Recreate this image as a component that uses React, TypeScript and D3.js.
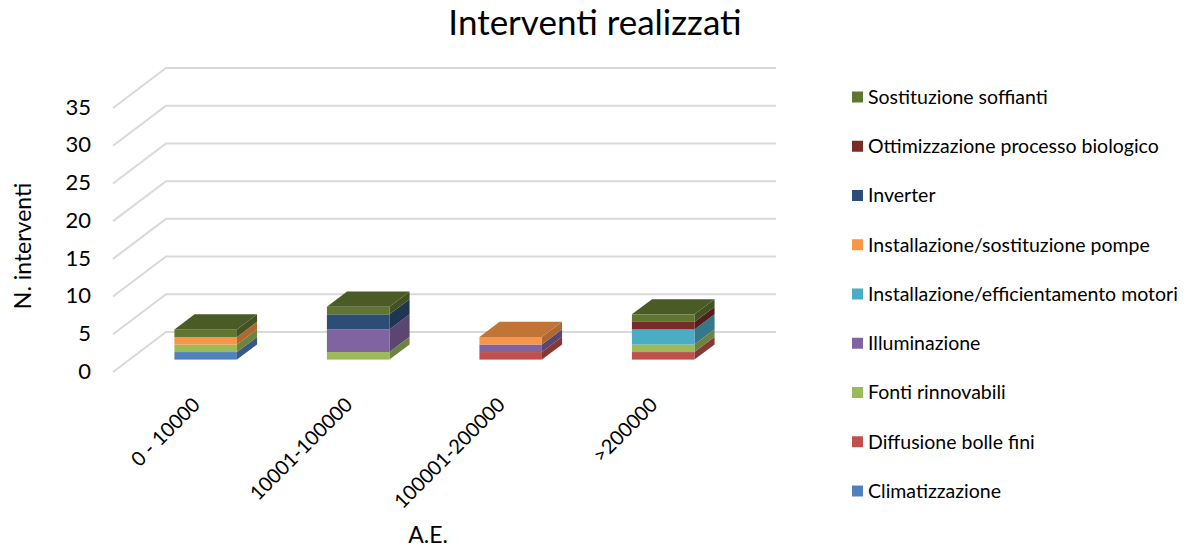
import React, { useEffect, useRef } from 'react';
import * as d3 from 'd3';

// categories (A.E. classes)
const categories = ['0 - 10000', '10001-100000', '100001-200000', '>200000'];

// series, in stack order (bottom to top)
const seriesNames = [
  'Climatizzazione',
  'Diffusione bolle fini',
  'Fonti rinnovabili',
  'Illuminazione',
  'Installazione/efficientamento motori',
  'Installazione/sostituzione pompe',
  'Inverter',
  'Ottimizzazione processo biologico',
  'Sostituzione soffianti',
];
const seriesColors = ['#4F81BD', '#C0504D', '#9BBB59', '#8064A2', '#4BACC6', '#F79646', '#2C4D75', '#772C2A', '#5F7530'];

// values per series, one per category
const climatizzazione = [1, 0, 0, 0];
const diffusione = [0, 0, 1, 1];
const fonti = [1, 1, 0, 1];
const illuminazione = [0, 3, 1, 0];
const motori = [0, 0, 0, 2];
const pompe = [1, 0, 1, 0];
const inverter = [0, 2, 0, 0];
const ottimizzazione = [0, 0, 0, 1];
const soffianti = [1, 1, 0, 1];

const yTicks = [0, 5, 10, 15, 20, 25, 30, 35];

const FONT = 'Lato, "Open Sans", sans-serif';

const App = () => {
  const svgRef = useRef<SVGSVGElement | null>(null);

  useEffect(() => {
    if (!svgRef.current) return;
    d3.select(svgRef.current).selectAll('*').remove();

    const width = 1196;
    const height = 547;
    const svg = d3.select(svgRef.current).attr('width', width).attr('height', height);

    const values = [climatizzazione, diffusione, fonti, illuminazione, motori, pompe, inverter, ottimizzazione, soffianti];
    const rows = categories.map((c, i) => {
      const r: any = { cat: c };
      seriesNames.forEach((s, j) => (r[s] = values[j][i]));
      return r;
    });
    const stacked = d3.stack().keys(seriesNames)(rows);

    // front plane
    const x = d3.scaleBand().domain(categories).range([113, 723]).paddingInner(0.59).paddingOuter(0.295);
    const y = d3.scaleLinear().domain([0, 35]).range([372, 108]);
    const depth = { dx: 53, dy: -40 };
    const d0 = 0.31;
    const d1 = 0.69;

    // left wall and back wall gridlines
    yTicks.forEach((t) => {
      svg.append('path')
        .attr('d', `M113,${y(t)} L${113 + depth.dx},${y(t) + depth.dy} L${723 + depth.dx},${y(t) + depth.dy}`)
        .attr('fill', 'none')
        .attr('stroke', '#D9D9D9')
        .attr('stroke-width', 2);

      svg.append('text')
        .attr('x', 91)
        .attr('y', y(t) - 1)
        .attr('dy', '0.35em')
        .attr('text-anchor', 'end')
        .attr('font-family', FONT)
        .attr('font-size', 22)
        .attr('fill', '#000')
        .text(t);
    });

    const color = d3.scaleOrdinal<string, string>().domain(seriesNames).range(seriesColors);

    // bars
    categories.forEach((c, i) => {
      const fx = (x(c) as number) + depth.dx * d0;
      const bw = x.bandwidth();
      const oy = depth.dy * d0;
      const sx = depth.dx * (d1 - d0);
      const sy = depth.dy * (d1 - d0);
      let topSeries: any = null;
      stacked.forEach((layer) => {
        const seg = layer[i];
        if (seg[1] - seg[0] <= 0) return;
        const base = color(layer.key);
        const yb = y(seg[0]) + oy;
        const yt = y(seg[1]) + oy;
        // side
        svg.append('path')
          .attr('d', `M${fx + bw},${yb} L${fx + bw + sx},${yb + sy} L${fx + bw + sx},${yt + sy} L${fx + bw},${yt} Z`)
          .attr('fill', d3.color(base)!.darker(1).toString());
        // front
        svg.append('rect')
          .attr('x', fx)
          .attr('y', yt)
          .attr('width', bw)
          .attr('height', yb - yt)
          .attr('fill', base);
        topSeries = { key: layer.key, yt };
      });
      if (topSeries) {
        const yt = topSeries.yt;
        svg.append('path')
          .attr('d', `M${fx},${yt} L${fx + bw},${yt} L${fx + bw + sx},${yt + sy} L${fx + sx},${yt + sy} Z`)
          .attr('fill', d3.color(color(topSeries.key))!.darker(0.7).toString());
      }

      // category label
      const lx = (x(c) as number) + bw / 2 + 12;
      svg.append('text')
        .attr('transform', `translate(${lx},406) rotate(-45)`)
        .attr('text-anchor', 'end')
        .attr('font-family', FONT)
        .attr('font-size', 20)
        .attr('fill', '#000')
        .text(c);
    });

    // axis titles
    svg.append('text')
      .attr('transform', 'translate(31,246) rotate(-90)')
      .attr('text-anchor', 'middle')
      .attr('font-family', FONT)
      .attr('font-size', 23)
      .attr('fill', '#000')
      .text('N. interventi');

    svg.append('text')
      .attr('x', 428)
      .attr('y', 543)
      .attr('text-anchor', 'middle')
      .attr('font-family', FONT)
      .attr('font-size', 23)
      .attr('fill', '#000')
      .text('A.E.');

    // title
    svg.append('text')
      .attr('x', 595)
      .attr('y', 35)
      .attr('text-anchor', 'middle')
      .attr('font-family', FONT)
      .attr('font-size', 35)
      .attr('fill', '#000')
      .text('Interventi realizzati');

    // legend (reverse order)
    const legendItems = seriesNames.slice().reverse();
    const ly = d3.scalePoint().domain(legendItems).range([97, 491]);
    legendItems.forEach((s) => {
      const cy = ly(s) as number;
      svg.append('rect')
        .attr('x', 852)
        .attr('y', cy - 5.5)
        .attr('width', 11)
        .attr('height', 11)
        .attr('fill', color(s));
      svg.append('text')
        .attr('x', 868)
        .attr('y', cy)
        .attr('dy', '0.35em')
        .attr('font-family', FONT)
        .attr('font-size', 19.5)
        .attr('fill', '#000')
        .text(s);
    });
  }, []);

  return (
    <div style={{ position: 'absolute', left: 0, top: 0 }}>
      <svg ref={svgRef} style={{ display: 'block' }}></svg>
    </div>
  );
};

export default App;
